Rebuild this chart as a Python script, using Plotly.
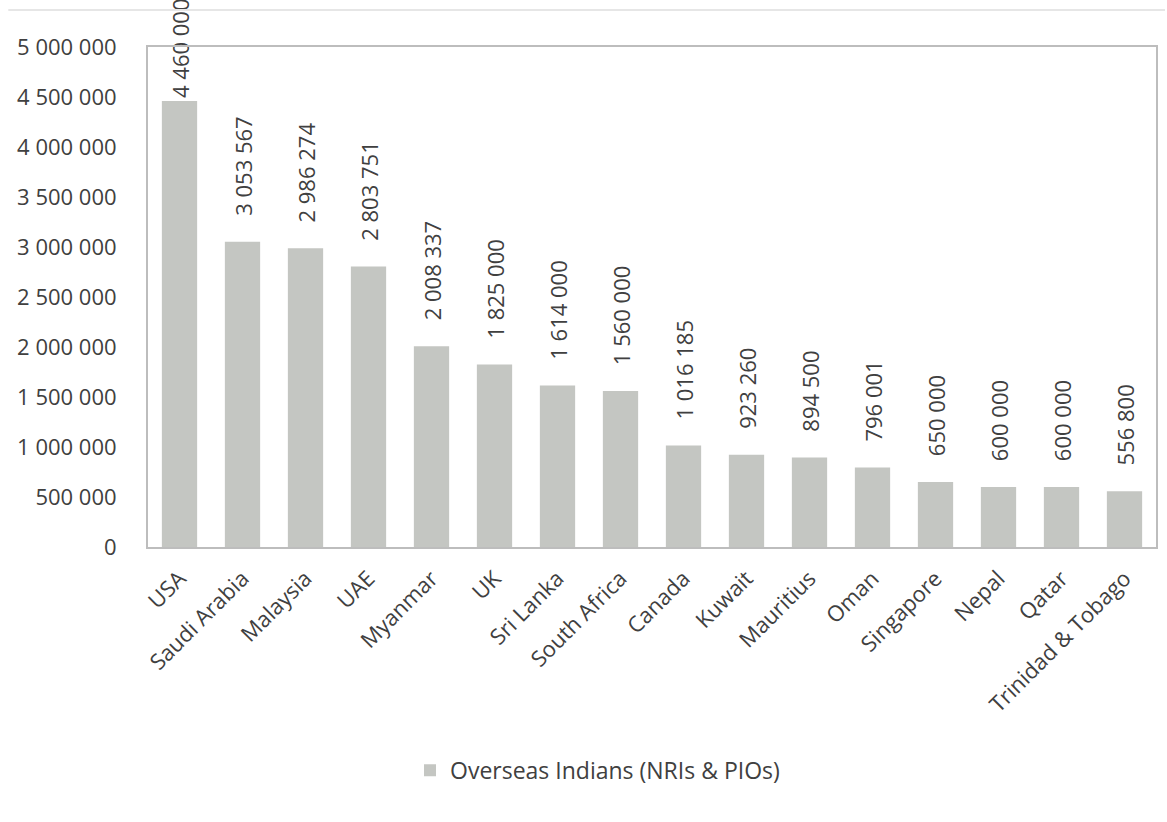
import plotly.graph_objects as go

countries = ["USA", "Saudi Arabia", "Malaysia", "UAE", "Myanmar", "UK", "Sri Lanka",
             "South Africa", "Canada", "Kuwait", "Mauritius", "Oman", "Singapore",
             "Nepal", "Qatar", "Trinidad & Tobago"]
overseas_indians = [4460000, 3053567, 2986274, 2803751, 2008337, 1825000, 1614000,
                    1560000, 1016185, 923260, 894500, 796001, 650000, 600000, 600000, 556800]
y_ticks = [0, 500000, 1000000, 1500000, 2000000, 2500000, 3000000, 3500000,
           4000000, 4500000, 5000000]
series_name = "Overseas Indians (NRIs & PIOs)"

FONT = "Open Sans, Liberation Sans, sans-serif"
TXT = "#404040"
Y_MAX = 5000000

# value labels sit a little above the bar end, unless that would run off the top
templates = [("" if v > 0.85 * Y_MAX else "\u00a0" * 4) + "%{y:,d}" for v in overseas_indians]

fig = go.Figure()
fig.add_trace(go.Bar(
    x=countries,
    y=overseas_indians,
    name=series_name,
    marker=dict(color="#c4c6c2", line=dict(width=0)),
    texttemplate=templates,
    textposition="outside",
    textangle=-90,
    constraintext="none",
    textfont=dict(family=FONT, size=22, color=TXT),
    cliponaxis=False,
    showlegend=True,
))

fig.update_layout(
    width=1167, height=822,
    margin=dict(l=148, r=9, t=47, b=275),
    paper_bgcolor="white", plot_bgcolor="white",
    separators=". ",
    bargap=0.44,
    font=dict(family=FONT, size=22, color=TXT),
    xaxis=dict(
        tickangle=-45, showline=True, linecolor="#bdbdbd", linewidth=2, mirror=True,
        ticks="", showgrid=False, tickfont=dict(size=22, color=TXT),
        ticklabelstandoff=8,
    ),
    yaxis=dict(
        range=[0, Y_MAX], tickvals=y_ticks, tickformat=",d",
        showline=True, linecolor="#bdbdbd", linewidth=2, mirror=True,
        showgrid=False, zeroline=False, ticks="", ticklen=0,
        tickfont=dict(size=22, color=TXT), ticklabelstandoff=25,
    ),
    legend=dict(
        orientation="h", xref="container", yref="container",
        x=0.512, y=0.063, xanchor="center", yanchor="middle",
        font=dict(size=23, color=TXT), itemwidth=30,
    ),
    shapes=[dict(type="line", xref="paper", yref="paper",
                 x0=(8 - 148) / 1010, x1=(1167 - 148) / 1010,
                 y0=1 + (47 - 10) / 500, y1=1 + (47 - 10) / 500,
                 line=dict(color="#e6e6e6", width=2))],
)

fig.write_html("out.html")
